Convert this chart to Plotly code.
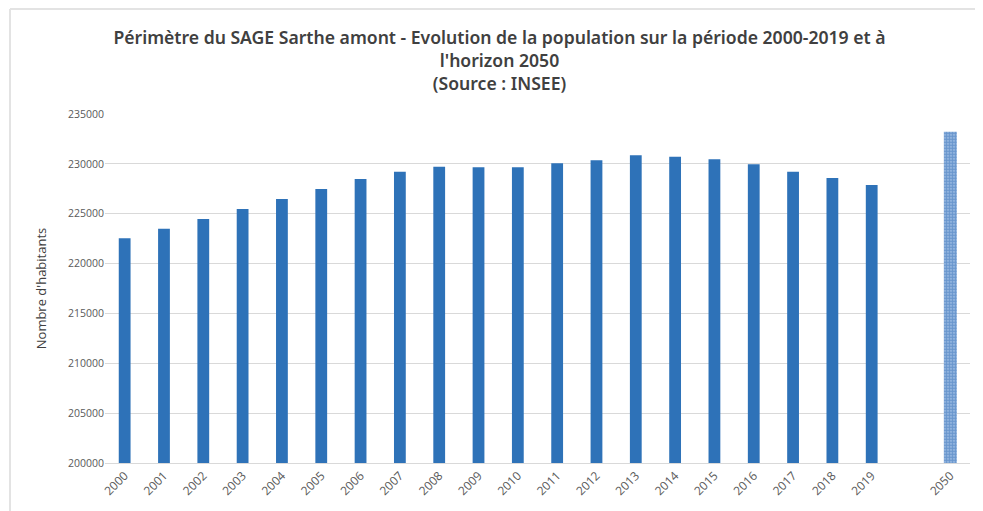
import plotly.graph_objects as go

years = [str(y) for y in range(2000, 2020)]
population = [222550, 223480, 224480, 225480, 226480, 227480, 228480, 229220,
              229720, 229650, 229650, 230070, 230370, 230870, 230720, 230470,
              229970, 229220, 228580, 227880]
proj_year = ["2050"]
proj_value = [233230]
categories = years + [" "] + proj_year

blue = "#2E72B8"
gray_txt = "#595959"

W, H = 983, 511
L, R, T, B = 97, 21, 106, 56
pw, ph = W - L - R, H - T - B

fig = go.Figure()
fig.add_trace(go.Bar(x=years, y=population, marker=dict(color=blue, line=dict(width=0)),
                     width=0.3, showlegend=False))
fig.add_trace(go.Bar(x=proj_year, y=proj_value,
                     marker=dict(color="#9fbfe6", line=dict(width=0),
                                 pattern=dict(shape=".", size=3, solidity=0.75,
                                              fgcolor="#2A66B0", bgcolor="#a9c6ea")),
                     width=0.33, showlegend=False))

fig.update_layout(
    width=W, height=H,
    margin=dict(l=L, r=R, t=T, b=B),
    paper_bgcolor="white", plot_bgcolor="white",
    barmode="overlay",
    font=dict(family="Open Sans, Noto Sans, sans-serif", color=gray_txt),
    title=dict(
        text="Périmètre du SAGE Sarthe amont - Evolution de la population sur la période 2000-2019 et à<br>l'horizon 2050<br>(Source : INSEE)",
        x=0.5, xanchor="center", y=1 - 36 / H, yanchor="top",
        font=dict(family="Noto Sans, sans-serif", size=17.6, color="#404040", weight=600),
    ),
    xaxis=dict(type="category", categoryorder="array", categoryarray=categories,
               tickangle=-45, tickfont=dict(size=12, color=gray_txt),
               showgrid=False, showline=True, linecolor="#d9d9d9", linewidth=1,
               ticks="", range=[-0.5, len(categories) - 0.5]),
    yaxis=dict(range=[200000, 235000], dtick=5000, tickformat="d",
               showgrid=True, gridcolor="#d9d9d9", gridwidth=1,
               zeroline=False, showline=False,
               tickfont=dict(size=10.5, color=gray_txt),
               title=dict(text="Nombre d'habitants", standoff=18,
                          font=dict(size=13, color="#404040"))),
)

# light frame lines (top and left) like the original chart border
x_left = (2 - L) / pw
y_top = 1 + (T - 1) / ph
fig.add_shape(type="line", xref="paper", yref="paper", x0=x_left, x1=(W - 10 - L) / pw,
              y0=y_top, y1=y_top, line=dict(color="#e3e3e3", width=2), layer="below")
fig.add_shape(type="line", xref="paper", yref="paper", x0=x_left, x1=x_left,
              y0=y_top, y1=-B / ph, line=dict(color="#e3e3e3", width=2), layer="below")

fig.write_html("out.html")
